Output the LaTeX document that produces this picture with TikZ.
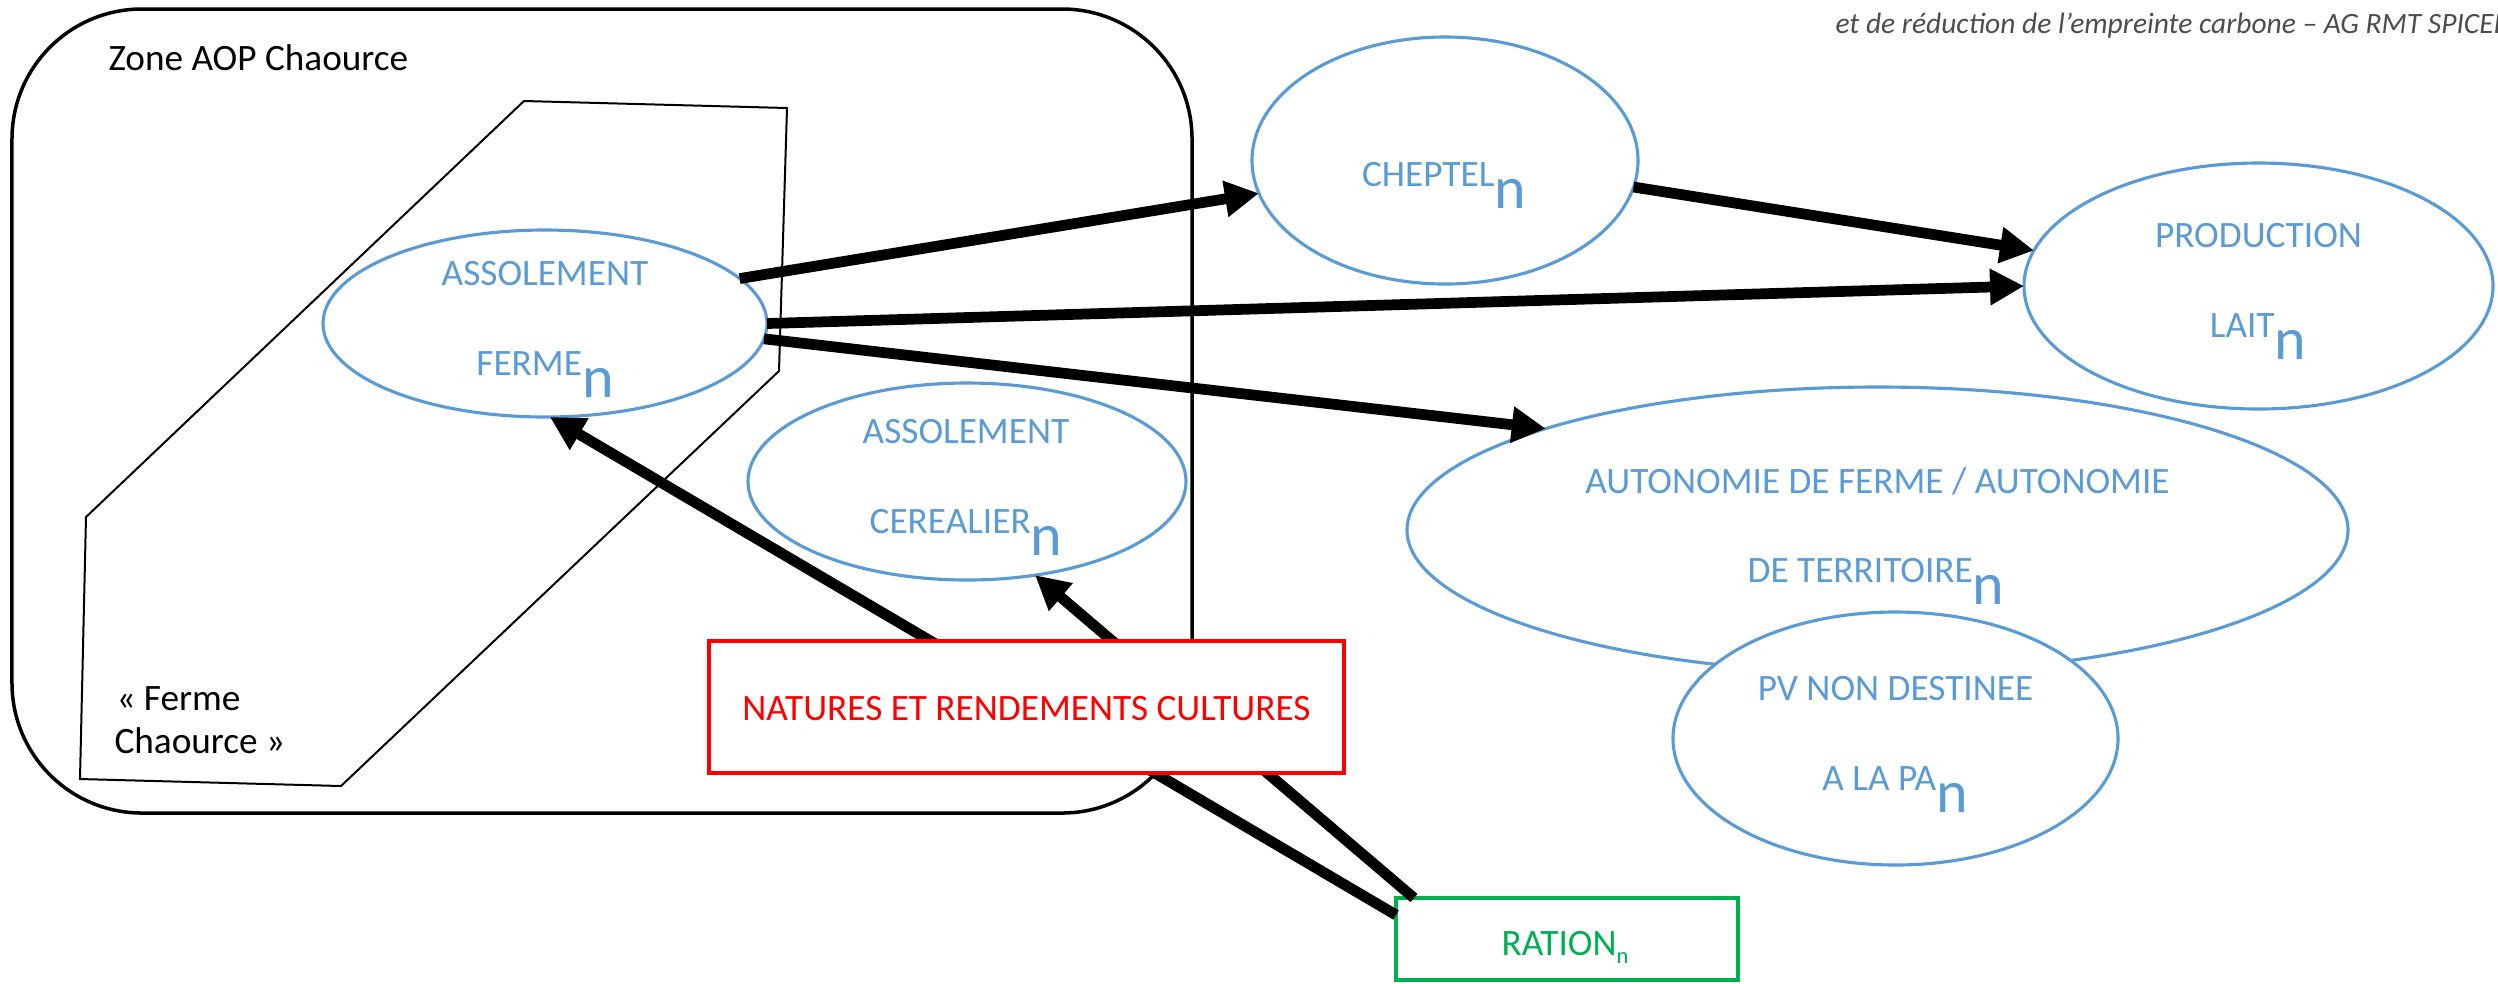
\documentclass[tikz,border=0pt]{standalone}
\usepackage{fontspec}
\setmainfont{Carlito}
\usetikzlibrary{shapes.geometric,arrows.meta}
\definecolor{accblue}{HTML}{5B9BD5}
\definecolor{accgreen}{HTML}{00B050}
\definecolor{hdrgray}{HTML}{4D4D4D}
\newcommand{\subN}{\raisebox{-8.8pt}{\fontsize{24}{24}\selectfont n}}
\newcommand{\smallsubN}{\raisebox{-3.2pt}{\fontsize{9}{9}\selectfont n}}
\begin{document}
\begin{tikzpicture}[x=0.4pt,y=-0.4pt,
  ell/.style={ellipse,draw=accblue,line width=1.25pt,fill=white,inner sep=0pt,outer sep=0pt},
  boxnode/.style={rectangle,line width=1.3pt,fill=white,inner sep=0pt,outer sep=0pt},
  lbl/.style={anchor=base,inner sep=0pt,text=accblue,font=\fontsize{14.9}{17}\selectfont},
  blk/.style={anchor=base west,inner sep=0pt,font=\fontsize{14.9}{17}\selectfont},
  arr/.style={line width=4.3pt,-{Triangle[length=13.6pt,width=13.8pt]}},
  ]
\useasboundingbox (0,0) rectangle (2498,983);
\fill[white] (0,0) rectangle (2498,983);
% header
\node[anchor=base west,inner sep=0pt,text=hdrgray,font=\fontsize{11.8}{13}\selectfont\itshape] (hdr) at (1835,33) {et de réduction de l’empreinte carbone – AG RMT SPICEE};
% zone
\node[draw,line width=1.4pt,rounded corners=52pt,minimum width=472pt,minimum height=321.6pt,inner sep=0pt] (zone) at (602,411) {};
\node[blk] (zonelbl) at (108,70) {Zone AOP Chaource};
% farm polygon
\draw[line width=0.8pt] (524,101) -- (787,108) -- (779,371) -- (341,786) -- (80,779) -- (86,517) -- cycle;
\node[blk] (fc1) at (116,710) {« Ferme};
\node[blk] (fc2) at (114,753) {Chaource »};
% ellipses
\node[ell,minimum width=177.6pt,minimum height=74.8pt] (ferme) at (545,323.5) {};
\node[ell,minimum width=175.2pt,minimum height=78.8pt] (cereal) at (967,481.5) {};
\node[ell,minimum width=154.4pt,minimum height=98.8pt] (cheptel) at (1445,160.5) {};
\node[ell,minimum width=187.6pt,minimum height=98.4pt] (prod) at (2258.5,286) {};
\node[ell,minimum width=376.4pt,minimum height=114.4pt] (auto) at (1877.5,530) {};
\node[ell,minimum width=178pt,minimum height=101.2pt] (pv) at (1895.5,738.5) {};
% ration box
\node[boxnode,draw=accgreen,minimum width=136.8pt,minimum height=32.8pt] (ration) at (1567,939) {};
% arrows
\draw[arr] (ferme.13.6) -- (cheptel.190);
\draw[arr] (cheptel.-8.4) -- (prod.171.5);
\draw[arr] (ferme.-0.9) -- (prod.180);
\draw[arr] (ferme.-4.8) -- (auto.163.4);
\draw[arr] (ration.172) -- (ferme.-87);
\draw[arr] (ration.165.7) -- (cereal.-54);
% natures box (on top of arrows)
\node[boxnode,draw=red,minimum width=254pt,minimum height=52.8pt] (natures) at (1026.5,707) {};
% labels
\node[lbl] (t1) at (545,285) {ASSOLEMENT};
\node[lbl] (t2) at (545,375) {FERME\subN};
\node[lbl] (t3) at (966,443) {ASSOLEMENT};
\node[lbl] (t4) at (966,533) {CEREALIER\subN};
\node[lbl] (t5) at (1444,186) {CHEPTEL\subN};
\node[lbl] (t6) at (2258.5,247) {PRODUCTION};
\node[lbl] (t7) at (2258,337) {LAIT\subN};
\node[lbl] (t8) at (1877.5,493) {AUTONOMIE DE FERME / AUTONOMIE};
\node[lbl] (t9) at (1876,582) {DE TERRITOIRE\subN};
\node[lbl] (t10) at (1895.5,700) {PV NON DESTINEE};
\node[lbl] (t11) at (1895,790) {A LA PA\subN};
\node[lbl,text=red] (t12) at (1026.5,720) {NATURES ET RENDEMENTS CULTURES};
\node[lbl,text=accgreen] (t13) at (1565,955) {RATION\smallsubN};
\end{tikzpicture}
\end{document}
